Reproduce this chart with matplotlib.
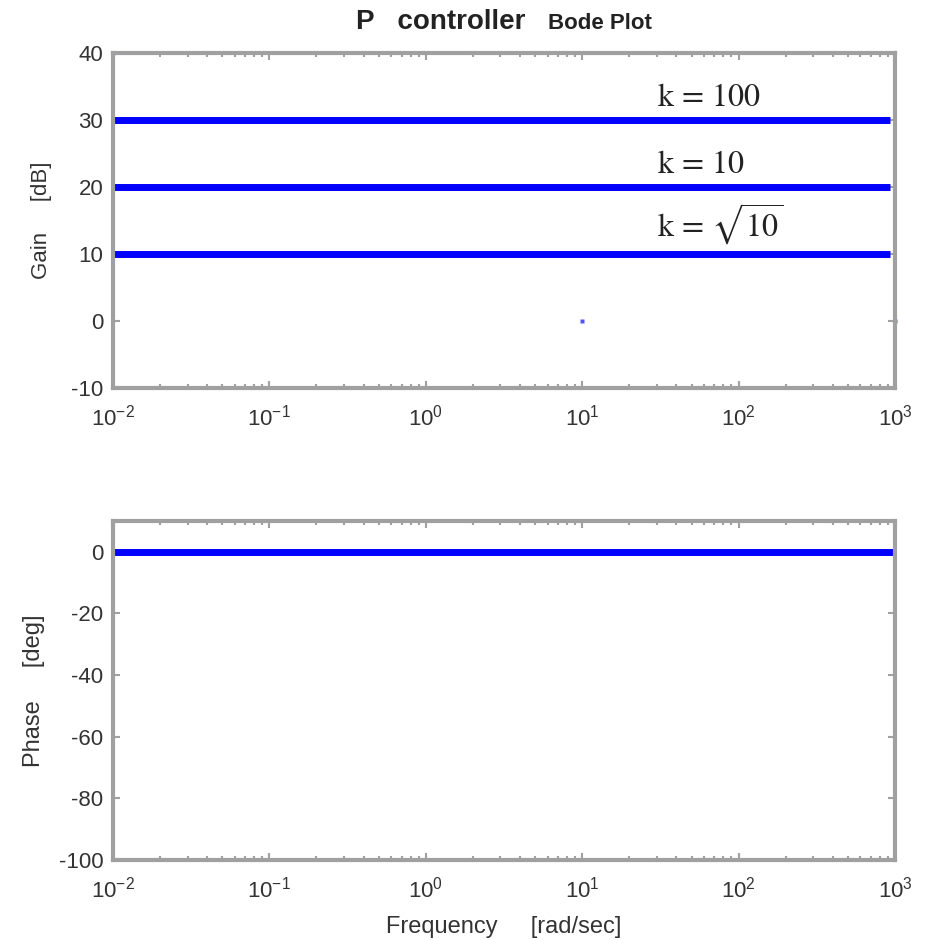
import numpy as np
import matplotlib
matplotlib.use('Agg')
import matplotlib.pyplot as plt
from matplotlib.ticker import LogLocator, FixedLocator

plt.rcParams['font.family'] = ['Liberation Sans', 'DejaVu Sans']
plt.rcParams['mathtext.fontset'] = 'stix'
plt.rcParams['axes.unicode_minus'] = False

# datos
freq_range = [1e-2, 1e3]
gain_db = [30, 20, 10]
gain_labels = [r'$\mathrm{k}\,=\,100$', r'$\mathrm{k}\,=\,10$', r'$\mathrm{k}\,=\,\sqrt{10}$']
phase_deg = [0, 0]
stray_w = [1e-2, 10, 1000]
stray_db = [40, 0, 0]

gris = '#a0a0a0'
texto = '#333333'

fig = plt.figure(figsize=(9.27, 9.40), dpi=100)
ax1 = fig.add_axes([113 / 927, 1 - 388 / 940, 782 / 927, 335 / 940])
ax2 = fig.add_axes([113 / 927, 1 - 860 / 940, 782 / 927, 339 / 940])


def estilo(ax):
    ax.set_xscale('log')
    ax.set_xlim(freq_range)
    for s in ax.spines.values():
        s.set_color(gris)
        s.set_linewidth(3)
    ax.xaxis.set_major_locator(LogLocator(base=10, numticks=10))
    ax.xaxis.set_minor_locator(LogLocator(base=10, subs=np.arange(2, 10), numticks=20))
    ax.tick_params(which='both', direction='in', top=True, right=True, colors=gris,
                   labelcolor=texto, labelsize=16)
    ax.tick_params(which='major', length=5, width=1.5)
    ax.tick_params(which='minor', length=3, width=1.5)
    ax.tick_params(axis='x', pad=12)
    ax.tick_params(axis='y', pad=7)


# Ganancia
w = np.array(freq_range)
for db, lab in zip(gain_db, gain_labels):
    ax1.plot(w * [1, 0.93], [db, db], color='#0000ff', lw=5, solid_capstyle='butt')
    ax1.text(30, db + 1.0, lab, fontsize=23, color='#222222', va='bottom', ha='left')
ax1.plot(stray_w, stray_db, 's', color='#5555ff', ms=2.5, mec='none', clip_on=False)
estilo(ax1)
ax1.set_ylim(-10, 40)
ax1.yaxis.set_major_locator(FixedLocator([-10, 0, 10, 20, 30, 40]))
ax1.set_ylabel('Gain     [dB]', fontsize=16, color=texto, labelpad=14)

# Fase
ax2.plot(w, phase_deg, color='#0000ff', lw=5, solid_capstyle='butt')
estilo(ax2)
ax2.set_ylim(-100, 10)
ax2.yaxis.set_major_locator(FixedLocator([-100, -80, -60, -40, -20, 0]))
ax2.set_ylabel('Phase     [deg]', fontsize=17, color=texto, labelpad=10)
ax2.set_xlabel('Frequency     [rad/sec]', fontsize=17, color=texto, labelpad=10)

fig.text(0.567, 0.977, 'P   controller', fontsize=20, fontweight='bold', color='#222222',
         ha='right', va='center')
fig.text(0.591, 0.975, 'Bode Plot', fontsize=16, fontweight='bold', color='#222222',
         ha='left', va='center')

fig.savefig('out.png', dpi=100)
